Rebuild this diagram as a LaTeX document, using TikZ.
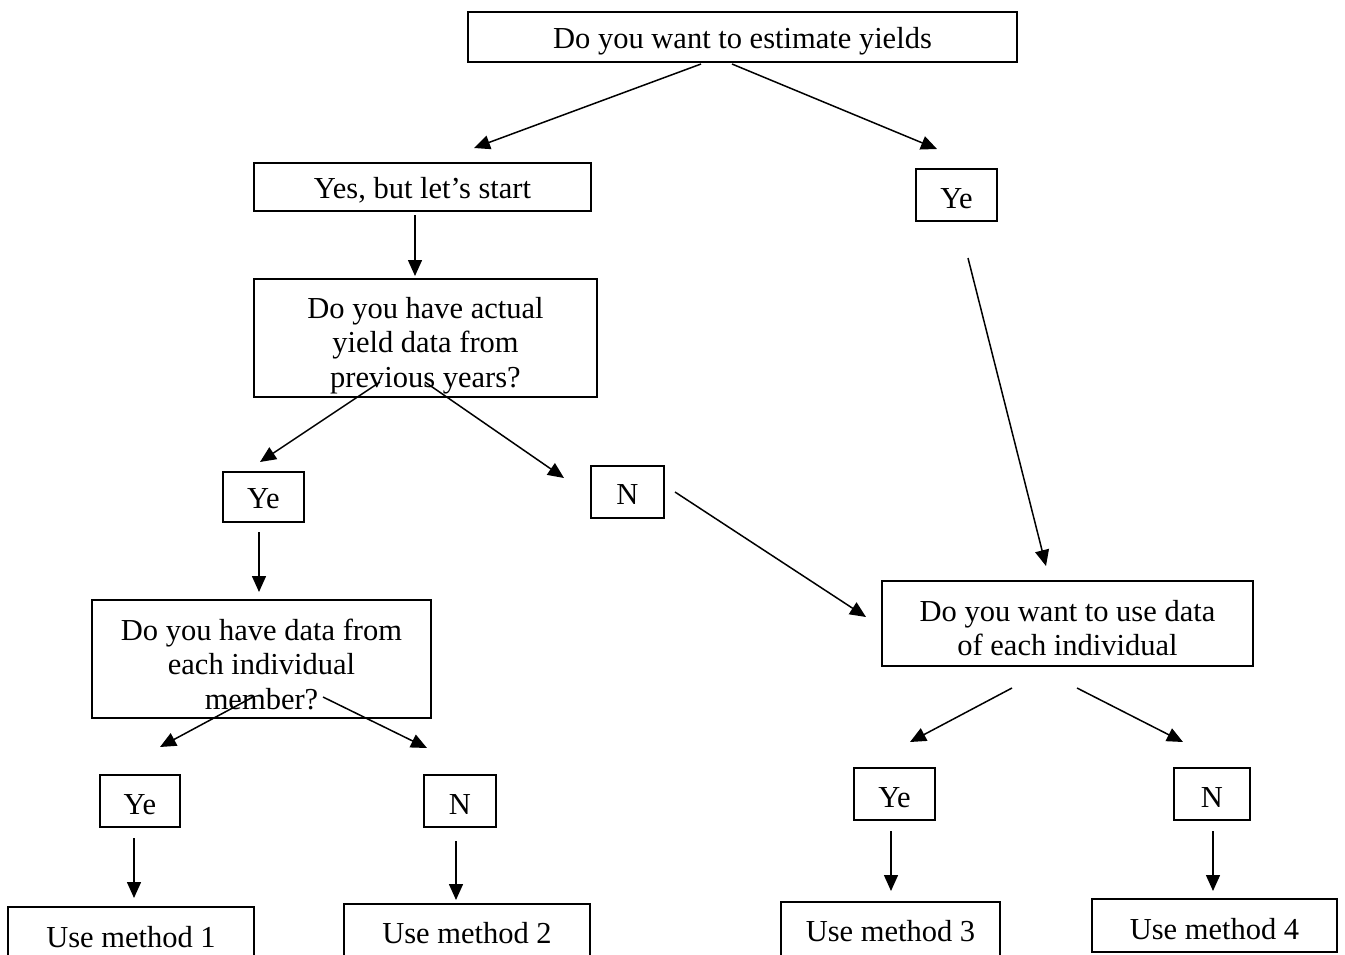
\documentclass[tikz,border=0pt]{standalone}
\usepackage{fontspec}
\setmainfont{Liberation Serif}
\usetikzlibrary{arrows.meta}
\newcommand{\boxtxt}[2]{\raisebox{#1}[\height][\depth]{\begin{tabular}{@{}c@{}}#2\end{tabular}}}
\begin{document}
\begin{tikzpicture}[x=1pt,y=-1pt,
  box/.style={draw, line width=1.3pt, inner sep=0pt,
    font=\fontsize{30.5}{34.5}\selectfont},
  arr/.style={line width=1.5pt, -{Triangle[length=16pt,width=14pt]}}]
\useasboundingbox (0,0) rectangle (1345,954);

\node[box, minimum width=549, minimum height=50] (top) at (742.5,37) {\boxtxt{-5pt}{Do you want to estimate yields}};
\node[box, minimum width=337, minimum height=48] (start) at (422.5,187) {\boxtxt{-5pt}{Yes, but let’s start}};
\node[box, minimum width=81, minimum height=52] (yeR) at (956.5,195) {\boxtxt{-7pt}{Ye}};
\node[box, minimum width=343, minimum height=118] (actual) at (425.5,338) {\boxtxt{-8pt}{Do you have actual\\yield data from\\previous years?}};
\node[box, minimum width=81, minimum height=50] (yeL) at (263.5,497) {\boxtxt{-5pt}{Ye}};
\node[box, minimum width=73, minimum height=52] (nM) at (627.5,492) {\boxtxt{-6pt}{N}};
\node[box, minimum width=339, minimum height=118] (member) at (261.5,659) {\boxtxt{-9pt}{Do you have data from\\each individual\\member?}};
\node[box, minimum width=371, minimum height=85] (usedata) at (1067.5,623.5) {\boxtxt{-8pt}{Do you want to use data\\of each individual}};
\node[box, minimum width=80, minimum height=52] (yeBL) at (140,801) {\boxtxt{-7pt}{Ye}};
\node[box, minimum width=72, minimum height=52] (nB) at (460,801) {\boxtxt{-7pt}{N}};
\node[box, minimum width=81, minimum height=52] (yeBR) at (894.5,794) {\boxtxt{-7pt}{Ye}};
\node[box, minimum width=76, minimum height=52] (nBR) at (1212,794) {\boxtxt{-7pt}{N}};
\node[box, minimum width=246, minimum height=60] (m1) at (131,937) {\boxtxt{-4pt}{Use method 1}};
\node[box, minimum width=246, minimum height=60] (m2) at (467,934) {\boxtxt{-3pt}{Use method 2}};
\node[box, minimum width=219, minimum height=60] (m3) at (890.5,932) {\boxtxt{-3pt}{Use method 3}};
\node[box, minimum width=245, minimum height=53] (m4) at (1214.5,925.5) {\boxtxt{-7pt}{Use method 4}};

% free ends of connectors
\coordinate (a1s) at (701,64);   \coordinate (a1e) at (474,148);
\coordinate (a2s) at (732,64);   \coordinate (a2e) at (937,149);
\coordinate (a3s) at (415,215);  \coordinate (a3e) at (415,276);
\coordinate (a4s) at (968,258);  \coordinate (a4e) at (1046,566);
\coordinate (a5s) at (380,382);  \coordinate (a5e) at (260,462);
\coordinate (a6s) at (425,382);  \coordinate (a6e) at (564,478);
\coordinate (a7s) at (259,532);  \coordinate (a7e) at (259,592);
\coordinate (a8s) at (675,492);  \coordinate (a8e) at (866,617);
\coordinate (a9s) at (253,697);  \coordinate (a9e) at (160,747);
\coordinate (a10s) at (323,697); \coordinate (a10e) at (427,748);
\coordinate (a11s) at (1012,688);\coordinate (a11e) at (910,742);
\coordinate (a12s) at (1077,688);\coordinate (a12e) at (1183,742);
\coordinate (a13s) at (134,838); \coordinate (a13e) at (134,898);
\coordinate (a14s) at (456,841); \coordinate (a14e) at (456,900);
\coordinate (a15s) at (891,831); \coordinate (a15e) at (891,891);
\coordinate (a16s) at (1213,831);\coordinate (a16e) at (1213,891);

\foreach \i in {1,...,16} { \draw[arr] (a\i s) -- (a\i e); }
\end{tikzpicture}
\end{document}
